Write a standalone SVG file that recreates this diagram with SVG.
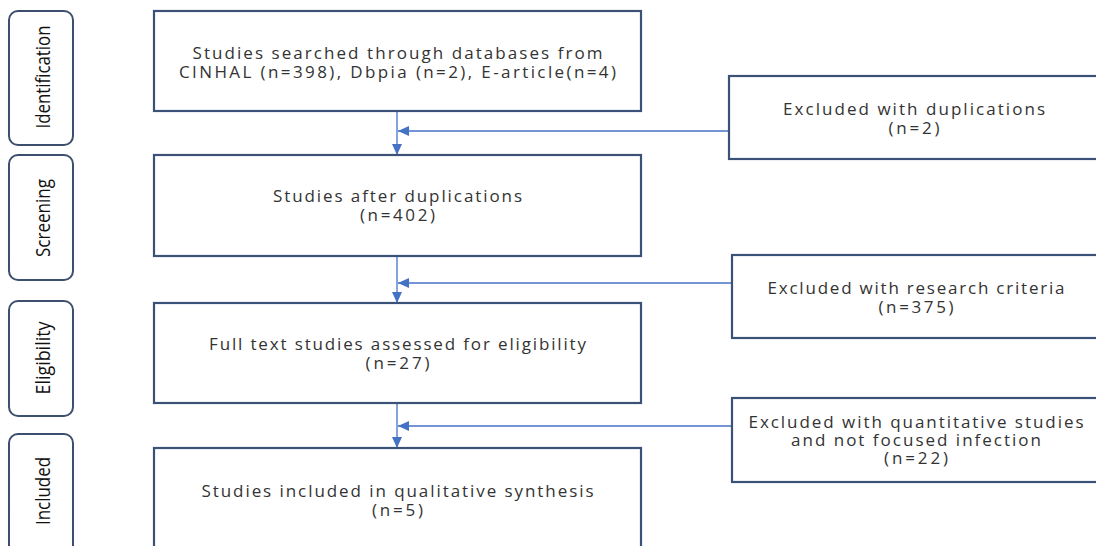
<svg xmlns="http://www.w3.org/2000/svg" width="1096" height="546" viewBox="0 0 1096 546">
<style>
.stage{fill:#fff;stroke:#3d4f6e;stroke-width:2}
.box{fill:#fff;stroke:#3b5178;stroke-width:2.2}
.lbl{font-family:"Open Sans","Noto Sans",sans-serif;font-size:20px;fill:#111;text-anchor:middle}
.t{font-family:"Open Sans","Noto Sans",sans-serif;font-size:17px;fill:#333;text-anchor:middle}
.c{fill:none;stroke:#4472c4;stroke-width:1.3}
</style>
<defs>
<marker id="ah" markerUnits="userSpaceOnUse" markerWidth="12" markerHeight="10" viewBox="0 0 12 10" refX="11" refY="5" orient="auto">
<path d="M0,0 L11,5 L0,10 Z" fill="#4472c4"/>
</marker>
</defs>
<rect width="1096" height="546" fill="#fff"/>
<g id="stage-identification"><rect class="stage" x="9" y="11" width="64" height="134" rx="9"/><text class="lbl" transform="translate(50,77) rotate(-90)" textLength="103" lengthAdjust="spacingAndGlyphs">Identification</text></g>
<g id="stage-screening"><rect class="stage" x="9" y="155" width="64" height="125" rx="9"/><text class="lbl" transform="translate(50,218) rotate(-90)" textLength="78" lengthAdjust="spacingAndGlyphs">Screening</text></g>
<g id="stage-eligibility"><rect class="stage" x="9" y="301" width="64" height="115" rx="9"/><text class="lbl" transform="translate(50,358) rotate(-90)" textLength="73" lengthAdjust="spacingAndGlyphs">Eligibility</text></g>
<g id="stage-included"><rect class="stage" x="9" y="434" width="64" height="130" rx="9"/><text class="lbl" transform="translate(50,491) rotate(-90)" textLength="68" lengthAdjust="spacingAndGlyphs">Included</text></g>

<g id="connectors">
<line class="c" x1="397" y1="112" x2="397" y2="155" marker-end="url(#ah)"/>
<line class="c" x1="729" y1="131" x2="398" y2="131" marker-end="url(#ah)"/>
<line class="c" x1="397" y1="257" x2="397" y2="303" marker-end="url(#ah)"/>
<line class="c" x1="732" y1="283" x2="398" y2="283" marker-end="url(#ah)"/>
<line class="c" x1="397" y1="404" x2="397" y2="448" marker-end="url(#ah)"/>
<line class="c" x1="732" y1="426" x2="398" y2="426" marker-end="url(#ah)"/>
</g>

<g id="n1"><rect class="box" x="154" y="11" width="487" height="100"/>
<text class="t" x="397.5" y="59" textLength="410" lengthAdjust="spacing">Studies searched through databases from</text>
<text class="t" x="397.5" y="78" textLength="437" lengthAdjust="spacing">CINHAL (n=398), Dbpia (n=2), E-article(n=4)</text></g>
<g id="n2"><rect class="box" x="154" y="155" width="487" height="101"/>
<text class="t" x="397.5" y="202" textLength="249" lengthAdjust="spacing">Studies after duplications</text>
<text class="t" x="397.5" y="221" textLength="75" lengthAdjust="spacing">(n=402)</text></g>
<g id="n3"><rect class="box" x="154" y="303" width="487" height="100"/>
<text class="t" x="397.5" y="350" textLength="377" lengthAdjust="spacing">Full text studies assessed for eligibility</text>
<text class="t" x="397.5" y="369" textLength="64" lengthAdjust="spacing">(n=27)</text></g>
<g id="n4"><rect class="box" x="154" y="448" width="487" height="120"/>
<text class="t" x="397.5" y="497" textLength="392" lengthAdjust="spacing">Studies included in qualitative synthesis</text>
<text class="t" x="397.5" y="516" textLength="51" lengthAdjust="spacing">(n=5)</text></g>

<g id="x1"><rect class="box" x="729" y="76" width="380" height="83"/>
<text class="t" x="914" y="115" textLength="262" lengthAdjust="spacing">Excluded with duplications</text>
<text class="t" x="914" y="134" textLength="51" lengthAdjust="spacing">(n=2)</text></g>
<g id="x2"><rect class="box" x="732" y="255" width="380" height="83"/>
<text class="t" x="916" y="294" textLength="297" lengthAdjust="spacing">Excluded with research criteria</text>
<text class="t" x="916" y="313" textLength="75" lengthAdjust="spacing">(n=375)</text></g>
<g id="x3"><rect class="box" x="732" y="398" width="380" height="84"/>
<text class="t" x="916" y="428" textLength="335" lengthAdjust="spacing">Excluded with quantitative studies</text>
<text class="t" x="916" y="446" textLength="250" lengthAdjust="spacing">and not focused infection</text>
<text class="t" x="916" y="464" textLength="64" lengthAdjust="spacing">(n=22)</text></g>
</svg>
